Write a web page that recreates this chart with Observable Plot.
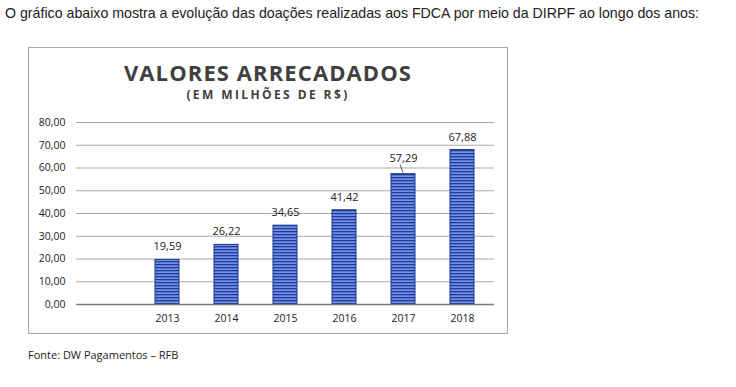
<!DOCTYPE html>
<html><head><meta charset="utf-8">
<script src="https://cdn.jsdelivr.net/npm/d3@7"></script>
<script src="https://cdn.jsdelivr.net/npm/@observablehq/plot@0.6"></script>
<style>
body{margin:0;background:#fff;width:736px;height:387px;position:relative;overflow:hidden;}
#hdr{position:absolute;left:5px;top:5px;font-family:"Liberation Sans",Arial,sans-serif;font-size:14.2px;color:#222;letter-spacing:0px;}
#box{position:absolute;left:28px;top:47px;width:478px;height:285px;border:1px solid #a8a8a8;}
#t1{position:absolute;left:0;right:0;top:13px;line-height:1;text-align:center;font-family:"Open Sans",sans-serif;font-weight:700;font-size:22px;letter-spacing:1.1px;color:#404040;}
#t2{position:absolute;left:0;right:0;top:41px;line-height:1;text-align:center;font-family:"Open Sans",sans-serif;font-weight:700;font-size:12px;letter-spacing:2.4px;color:#404040;}
#chart{position:absolute;left:0;top:0;}
#src{position:absolute;left:28px;top:347px;font-family:"Open Sans",sans-serif;font-size:11px;color:#222;}
</style></head>
<body>
<div id="hdr">O gráfico abaixo mostra a evolução das doações realizadas aos FDCA por meio da DIRPF ao longo dos anos:</div>
<div id="box">
  <div id="chart"></div>
  <div id="t1">VALORES ARRECADADOS</div>
  <div id="t2">(EM MILHÕES DE R$)</div>
</div>
<div id="src">Fonte: DW Pagamentos – RFB</div>
<script>
const years = ["2013","2014","2015","2016","2017","2018"];
const values = [19.59, 26.22, 34.65, 41.42, 57.29, 67.88];
const yTicks = [0,10,20,30,40,50,60,70,80];

const data = years.map((y,i)=>({year:y, value:values[i]}));
const fmt = v => v.toFixed(2).replace(".", ",");
const domainX = [""].concat(years);

const chart = Plot.plot({
  width: 478, height: 285,
  marginLeft: 47, marginRight: 13, marginTop: 74, marginBottom: 29,
  style: {fontFamily: "'Open Sans', sans-serif", fontSize: "10.5px", color: "#222", background: "transparent"},
  x: {domain: domainX, paddingInner: 0.6, paddingOuter: 0.3, label: null, tickSize: 0, tickPadding: 10, tickFormat: d => d},
  y: {domain: [0, 80], ticks: yTicks, label: null, tickSize: 0, tickPadding: 11, tickFormat: fmt},
  marks: [
    Plot.ruleY(yTicks.filter(t=>t>0), {stroke: "#a8a8a8", strokeWidth: 1.2, strokeOpacity: 1}),
    Plot.barY(data, {x: "year", y: "value", fill: "url(#stripes)", stroke: "#1b3591", strokeWidth: 1}),
    Plot.ruleY([0], {stroke: "#7a7a7a", strokeWidth: 1.5}),
    Plot.text(data.filter(d=>d.year!=="2017"), {x: "year", y: "value", text: d=>fmt(d.value), dy: -13, fontSize: 11, fill: "#222"}),
    Plot.text(data.filter(d=>d.year==="2017"), {x: "year", y: "value", text: d=>fmt(d.value), dy: -16, fontSize: 11, fill: "#222"})
  ]
});

const svgNS = "http://www.w3.org/2000/svg";
const defs = document.createElementNS(svgNS, "defs");
defs.innerHTML = `
<pattern id="stripes" patternUnits="userSpaceOnUse" width="478" height="3">
  <rect width="478" height="3" fill="#7390e0"/>
  <rect width="478" height="1.3" fill="#1f3ea3"/>
</pattern>`;
chart.insertBefore(defs, chart.firstChild);

// leader line for 2017 label, positioned via the chart's scales
const xs = chart.scale("x"), ys = chart.scale("y");
const v17 = values[years.indexOf("2017")];
const cx = xs.apply("2017") + xs.bandwidth/2;
const ln = document.createElementNS(svgNS, "line");
ln.setAttribute("x1", cx - 3); ln.setAttribute("x2", cx);
ln.setAttribute("y1", ys.apply(v17) - 9); ln.setAttribute("y2", ys.apply(v17) - 1);
ln.setAttribute("stroke", "#333"); ln.setAttribute("stroke-width", "0.8");
chart.appendChild(ln);

document.getElementById("chart").appendChild(chart);
</script>
</body></html>
